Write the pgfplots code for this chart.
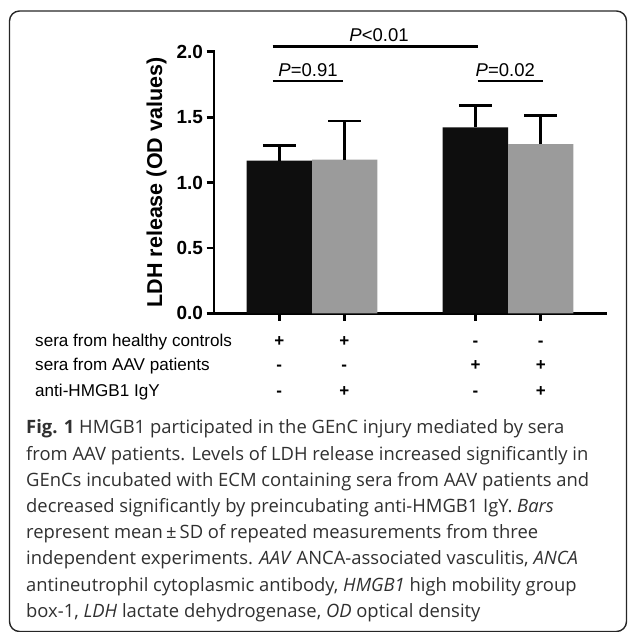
\documentclass[border=0pt]{standalone}
\usepackage{pgfplots}
\pgfplotsset{compat=1.18}
\usepackage{fontspec}
\setmainfont{Liberation Sans}
\newfontfamily\capfont{Open Sans}
\definecolor{barblack}{HTML}{0E0E0E}
\definecolor{bargray}{HTML}{9B9B9B}
\definecolor{captext}{HTML}{303030}
\begin{document}
\begin{tikzpicture}
\useasboundingbox (0,0) rectangle (629bp,-632bp);
% frame
\draw[line width=1.4bp, rounded corners=10bp, black!85] (9.5bp,-11bp) rectangle (626.5bp,-631.5bp);
\begin{axis}[
  at={(214bp,-313.3bp)}, anchor=south west,
  scale only axis, width=392bp, height=261.6bp,
  xmin=0, xmax=6, ymin=0, ymax=2,
  enlargelimits=false, clip=false,
  axis lines=left,
  axis line style={-, line width=2.8bp, line cap=rect},
  xtick={1,2,4,5}, xticklabels={},
  ytick={0,0.5,1,1.5,2}, yticklabels={0.0,0.5,1.0,1.5,2.0},
  yticklabel style={font=\bfseries\fontsize{19bp}{19bp}\selectfont},
  tick align=outside, major tick length=7.5bp,
  tick style={line width=2.8bp, black},
  ylabel={LDH release (OD values)},
  ylabel style={font=\bfseries\fontsize{21.5bp}{21.5bp}\selectfont, at={(-52bp,130.8bp)}, anchor=south, yshift=-8bp},
  error bars/y dir=plus, error bars/y explicit,
  error bars/error bar style={line width=2.7bp, black},
  error bars/error mark options={line width=2.5bp, mark size=16.5bp, black, rotate=90},
]
\addplot[ybar, bar width=1, bar shift=0pt, fill=barblack, draw=none]
  coordinates {(1,1.167) +- (0,0.114) (4,1.422) +- (0,0.165)};
\addplot[ybar, bar width=1, bar shift=0pt, fill=bargray, draw=none]
  coordinates {(2,1.175) +- (0,0.295) (5,1.294) +- (0,0.217)};
\end{axis}
% significance annotations
\begin{scope}[line width=2.5bp]
\draw (272.7bp,-46.7bp) -- (478.3bp,-46.7bp);
\draw (272.7bp,-81bp) -- (343.3bp,-81bp);
\draw (477.7bp,-81bp) -- (542.7bp,-81bp);
\end{scope}
\begin{scope}[every node/.style={inner sep=0pt, anchor=base, font=\fontsize{18.5bp}{18.5bp}\selectfont}]
\node at (379bp,-41bp) {\textit{P}<0.01};
\node at (308bp,-76bp) {\textit{P}=0.91};
\node at (505.3bp,-76.7bp) {\textit{P}=0.02};
\end{scope}
% condition rows
\begin{scope}[every node/.style={inner sep=0pt, anchor=base west, font=\fontsize{17.1bp}{17.1bp}\selectfont}]
\node at (35bp,-346bp) {sera from healthy controls};
\node at (35bp,-370.7bp) {sera from AAV patients};
\node at (35bp,-396bp) {anti-HMGB1 IgY};
\end{scope}
\begin{scope}[every node/.style={inner sep=0pt, anchor=base, font=\bfseries\fontsize{17bp}{17bp}\selectfont}]
\node at (279.3bp,-346bp) {+}; \node at (344.3bp,-346bp) {+}; \node at (475.5bp,-346bp) {-}; \node at (540.8bp,-346bp) {-};
\node at (279.3bp,-370.7bp) {-}; \node at (344.3bp,-370.7bp) {-}; \node at (475.5bp,-370.7bp) {+}; \node at (540.8bp,-370.7bp) {+};
\node at (279.3bp,-396bp) {-}; \node at (344.3bp,-396bp) {+}; \node at (475.5bp,-396bp) {-}; \node at (540.8bp,-396bp) {+};
\end{scope}
% caption
\begin{scope}[every node/.style={inner sep=0pt, anchor=base west, text=captext, font=\capfont\fontsize{18.4bp}{18.4bp}\selectfont}]
\node at (26bp,-433.8bp) {\textbf{Fig. 1} HMGB1 participated in the GEnC injury mediated by sera};
\node at (26bp,-460bp) {from AAV patients. Levels of LDH release increased significantly in};
\node at (26bp,-486.2bp) {GEnCs incubated with ECM containing sera from AAV patients and};
\node at (26bp,-512.4bp) {decreased significantly by preincubating anti-HMGB1 IgY. \textit{Bars}};
\node at (26bp,-538.6bp) {represent mean\,±\,SD of repeated measurements from three};
\node at (26bp,-564.8bp) {independent experiments. \textit{AAV} ANCA-associated vasculitis, \textit{ANCA}};
\node at (26bp,-591bp) {antineutrophil cytoplasmic antibody, \textit{HMGB1} high mobility group};
\node at (26bp,-617.2bp) {box-1, \textit{LDH} lactate dehydrogenase, \textit{OD} optical density};
\end{scope}
\end{tikzpicture}
\end{document}
